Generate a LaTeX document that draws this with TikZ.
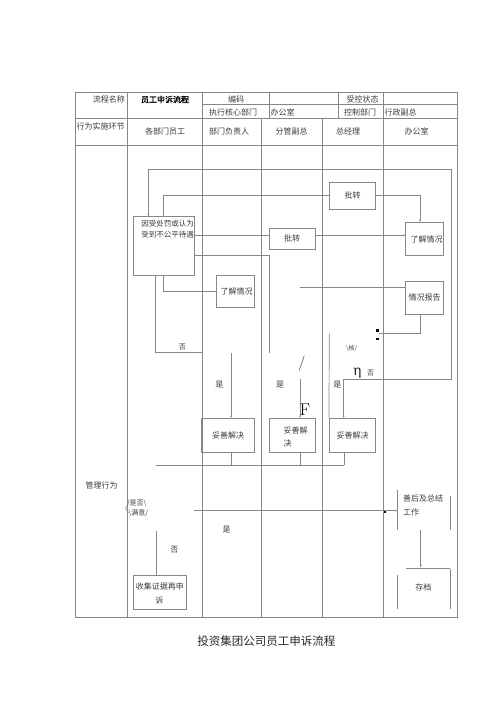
\documentclass[tikz,border=0pt]{standalone}
\usepackage{fontspec}
\newfontfamily\cjk{Noto Sans CJK SC}
\newfontfamily\cjkb[FakeBold=1.5]{Noto Sans CJK SC}
\newfontfamily\dvs{DejaVu Serif}
\usetikzlibrary{arrows.meta,calc}
\definecolor{lc}{RGB}{135,135,135}
\definecolor{tc}{RGB}{60,60,60}
\begin{document}
\begin{tikzpicture}[x=1pt,y=-1pt,
  ln/.style={draw=lc,line width=0.7pt},
  tbl/.style={draw=lc,line width=0.8pt},
  arr/.style={ln,-{Stealth[length=2.5pt,width=2pt]}},
  box/.style={draw=lc,line width=0.7pt,inner sep=0pt,font=\cjk\fontsize{8}{10}\selectfont,text=tc},
  ghost/.style={inner sep=0pt},
  tx/.style={font=\cjk\fontsize{8}{10}\selectfont,text=tc,inner sep=0pt},
  sm/.style={font=\cjk\fontsize{7}{8}\selectfont,text=tc,inner sep=0pt},
  mk/.style={fill=black,minimum size=2.5pt,inner sep=0pt}
]
\useasboundingbox[fill=white] (0,0) rectangle (500,707);

% ---- table ----
\draw[tbl] (75,92.3) rectangle (457,617);
\draw[tbl] (202,104.7) -- (457,104.7);
\draw[tbl] (75,118.7) -- (457,118.7);
\draw[tbl] (75,145) -- (457,145);
\draw[tbl] (127.3,92.3) -- (127.3,617);
\draw[tbl] (202,92.3) -- (202,617);
\draw[tbl] (269.3,92.3) -- (269.3,118.7);
\draw[tbl] (338,92.3) -- (338,118.7);
\draw[tbl] (383,92.3) -- (383,617);
\draw[tbl] (261.5,118.7) -- (261.5,617);
\draw[tbl] (322.5,118.7) -- (322.5,617);

% ---- header texts ----
\node[tx,anchor=east] (h1) at (125,99.5) {流程名称};
\node[font=\cjkb\fontsize{8}{10}\selectfont,inner sep=0pt] (h2) at (165,99.5) {员工申诉流程};
\node[tx] (h3) at (236,99) {编码};
\node[tx] (h4) at (362.5,99) {受控状态};
\node[tx] (h5) at (233,112) {执行核心部门};
\node[tx,anchor=west] (h6) at (270.5,112) {办公室};
\node[tx] (h7) at (360,112) {控制部门};
\node[tx,anchor=west] (h8) at (384.5,112) {行政副总};
\node[tx] (h9) at (100.5,126.7) {行为实施环节};
\node[tx] (l1) at (165,131.7) {各部门员工};
\node[tx] (l2) at (229,131.7) {部门负责人};
\node[tx] (l3) at (291.7,131.7) {分管副总};
\node[tx] (l4) at (348,131.7) {总经理};
\node[tx] (l5) at (416.7,131.7) {办公室};
\node[tx] (gl) at (101.7,485) {管理行为};

% ---- boxes ----
\node[box,minimum width=61pt,minimum height=58.3pt] (b1) at (163.8,245.85) {};
\node[tx,font=\cjk\fontsize{7.5}{9}\selectfont] (b1a) at (167.5,223.5) {因受处罚或认为};
\node[tx,font=\cjk\fontsize{7.5}{9}\selectfont] (b1b) at (167.5,234.5) {受到不公平待遇};
\node[box,minimum width=46.4pt,minimum height=27pt] (pz1) at (352.5,195.8) {批转};
\node[box,minimum width=45.7pt,minimum height=21pt] (pz2) at (292.15,238.8) {批转};
\node[box,minimum width=37.6pt,minimum height=33.4pt] (lj1) at (424.5,239) {\hspace*{4pt}了解情况};
\node[box,minimum width=38.3pt,minimum height=32.7pt] (lj2) at (235.15,291.35) {\hspace*{3pt}了解情况};
\node[box,minimum width=37.6pt,minimum height=33.3pt] (bg) at (424.5,297.65) {情况报告};
\node[box,minimum width=52.6pt,minimum height=34pt] (ts1) at (228,435.3) {妥善解决};
\node[box,minimum width=45.7pt,minimum height=34pt] (ts2) at (292.15,435.3) {};
\node[tx,anchor=west] (ts2a) at (283.3,430) {妥善解};
\node[tx,anchor=west] (ts2b) at (283.3,443.3) {决};
\node[box,minimum width=46.4pt,minimum height=34pt] (ts3) at (352.5,435.3) {妥善解决};
\node[ghost,minimum width=52.7pt,minimum height=40pt] (sh) at (423.65,510) {};
\node[tx,anchor=west] (sha) at (403,498.3) {善后及总结};
\node[tx,anchor=west] (shb) at (403,512.7) {工作};
\node[ghost,minimum width=52.7pt,minimum height=39.3pt] (cd) at (423.65,588.65) {};
\node[tx] (cdt) at (423.3,587) {存档};
\node[box,minimum width=53pt,minimum height=34pt] (sj) at (159.8,592) {};
\node[tx] (sja) at (159.8,586.5) {收集证据再申};
\node[tx] (sjb) at (159.3,600) {诉};

% ---- connectors ----
\coordinate (loopL) at (148.3,169.3);
\coordinate (loopR) at (451,169.3);
\coordinate (loopB) at (451,379.3);
\draw[arr] (loopR) -- (loopL) -- (b1.north -| loopL);
\draw[arr] (loopR) -- (loopB) -| ($(ts3.north west)+(14.7,0)$);

\draw[ln] ($(b1.north west)+(30,0)$) |- (pz1.west);
\draw[arr] (pz1.east) -| ($(lj1.north)+(-4.5,0)$);
\coordinate (r235) at (0,235.3);
\draw[ln] (b1.east |- r235) -- (pz2.west |- r235);
\draw[arr] (pz2.east |- r235) -- (lj1.west |- r235);
\coordinate (r256) at (0,255.7);
\coordinate (e1) at (269.3,352.7);
\draw[ln] (b1.east |- r256) -| (e1);
\draw[ln] ($(b1.south west)+(30,0)$) |- (lj2.west);
\coordinate (e2) at (201.7,352.7);
\draw[ln] ($(b1.south west)+(22.4,0)$) |- (e2);
\coordinate (s1) at (300,287.7);
\draw[ln] (s1) -- (bg.west |- s1);
\coordinate (e3) at (379,333.3);
\draw[ln] ($(bg.south)+(-4.5,0)$) |- (e3);
\node[mk] (m1) at (377.5,330.5) {};
\node[mk] (m2) at (377.5,339) {};
\coordinate (s2) at (329.3,333.3);
\draw[ln] (s2) -- (ts3.north west);
\coordinate (s3) at (231,353.3);
\draw[arr] (s3) -- (s3 |- ts1.north);
\coordinate (s4) at (300,379.3);
\draw[arr] (s4) -- (s4 |- ts2.north);
\coordinate (bl) at (155.7,465);
\coordinate (br) at (344,465);
\draw[ln] (bl) -- (br);
\draw[ln] (ts3.south -| br) -- (br);
\draw[ln] (ts1.south -| s3) -- (s3 |- bl);
\draw[ln] (ts2.south -| s4) -- (s4 |- bl);

\coordinate (s5) at (194,510.5);
\draw[arr] (s5) -- (sh.west |- s5);
\node[mk,minimum size=2pt] (m3) at (385,512.3) {};
\draw[ln] (sh.north west) -- (sh.south west);
\draw[ln] ([yshift=-6pt]sh.north east) -- (sh.south east);
\draw[arr] ($(sh.south)+(-3,0)$) -- ($(cd.north)+(-3,-1.5)$);
\draw[ln] ($(cd.north west)+(8.7,0)$) -- (cd.north east);
\draw[ln] ($(cd.north west)+(0,6)$) -- (cd.south west);
\draw[ln] (cd.north east) -- (cd.south east);
\coordinate (s6) at (156,530.7);
\draw[ln] (s6) -- (s6 |- sj.north);

% ---- labels ----
\node[sm] (n1) at (182.3,347.3) {否};
\node[tx] (y1) at (219.3,385) {是};
\node[tx] (y2) at (280,385) {是};
\node[tx] (y3) at (337.3,385) {是};
\node[font=\fontsize{15}{15}\selectfont,text=black!85,inner sep=0pt] (sl) at (301.7,363.3) {/};
\node[font=\fontsize{17}{17}\selectfont,text=black,inner sep=0pt] (ff) at (305,409.3) {F};
\node[font=\cjk\fontsize{6}{7}\selectfont,text=tc,inner sep=0pt] (hk) at (351.7,348.3) {\textbackslash 核/};
\node[font=\dvs\fontsize{14}{14}\selectfont,text=black!85,inner sep=0pt] (eta) at (357.3,373) {η};
\node[sm] (n2) at (370.7,372.7) {否};
\node[sm] (q1) at (136.7,503.3) {/是否\textbackslash};
\node[sm] (q2) at (138.3,513.3) {\textbackslash 满意/};
\draw[ln,line width=0.5pt] (128.5,503.5) -- (125.5,508.5) -- (128.5,513);
\node[tx] (y4) at (226.7,530) {是};
\node[tx] (n3) at (174.3,550) {否};

\node[font=\cjk\fontsize{11.5}{13}\selectfont,text=black!85,inner sep=0pt] (title) at (266.3,640.7) {投资集团公司员工申诉流程};
\end{tikzpicture}
\end{document}
